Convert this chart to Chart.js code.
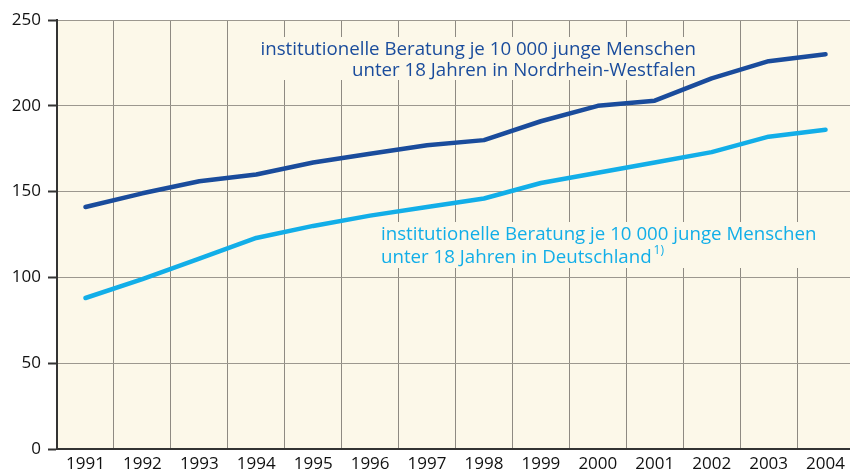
<!DOCTYPE html>
<html>
<head>
<meta charset="utf-8">
<script src="https://cdn.jsdelivr.net/npm/chart.js@4"></script>
<style>
  html, body { margin: 0; padding: 0; background: #fff; overflow: hidden; }
  #wrap { position: relative; width: 854px; height: 474px; }
</style>
</head>
<body>
<div id="wrap"><canvas id="c"></canvas></div>
<script>
const years = ["1991","1992","1993","1994","1995","1996","1997","1998","1999","2000","2001","2002","2003","2004"];
const nrw = [141, 149, 156, 160, 167, 172, 177, 180, 191, 200, 203, 216, 226, 230];
const deutschland = [88, 99, 111, 123, 130, 136, 141, 146, 155, 161, 167, 173, 182, 186];
const yTicks = [0, 50, 100, 150, 200, 250];

const labelNrw = ["institutionelle Beratung je 10 000 junge Menschen", "unter 18 Jahren in Nordrhein-Westfalen"];
const labelDe = ["institutionelle Beratung je 10 000 junge Menschen", "unter 18 Jahren in Deutschland"];
const footnote = "1)";

const DARK = "#1a4c9c";
const LIGHT = "#12aee8";
const CREAM = "#fcf8e9";
const FONT = "'Open Sans', sans-serif";

// cream plot background
const bgPlugin = {
  id: "bg",
  beforeDraw(chart) {
    const a = chart.chartArea, ctx = chart.ctx;
    ctx.save();
    ctx.fillStyle = CREAM;
    ctx.fillRect(a.left, a.top, a.right - a.left, a.bottom - a.top);
    ctx.restore();
  }
};

// in-plot labels with cream box that hides the grid behind them
const labelPlugin = {
  id: "labels",
  beforeDatasetsDraw(chart) {
    const ctx = chart.ctx, a = chart.chartArea;
    ctx.save();
    ctx.font = "18.7px " + FONT;
    ctx.textBaseline = "alphabetic";

    // NRW label, right aligned
    const r1 = a.left + 639;
    const w1 = Math.max(...labelNrw.map(s => ctx.measureText(s).width));
    ctx.fillStyle = CREAM;
    ctx.fillRect(r1 - w1 - 5, a.top + 17, w1 + 10, 43);
    ctx.fillStyle = DARK;
    ctx.textAlign = "right";
    ctx.fillText(labelNrw[0], r1, a.top + 35);
    ctx.fillText(labelNrw[1], r1, a.top + 56);

    // Deutschland label, left aligned
    const l2 = a.left + 324;
    const w2 = Math.max(...labelDe.map(s => ctx.measureText(s).width));
    ctx.fillStyle = CREAM;
    ctx.fillRect(l2 - 5, a.top + 202, w2 + 10, 46);
    ctx.fillStyle = LIGHT;
    ctx.textAlign = "left";
    ctx.fillText(labelDe[0], l2, a.top + 220);
    ctx.fillText(labelDe[1], l2, a.top + 243);
    const wd = ctx.measureText(labelDe[1]).width;
    ctx.font = "12px " + FONT;
    ctx.fillText(footnote, l2 + wd + 2, a.top + 234);
    ctx.restore();
  }
};

new Chart(document.getElementById("c"), {
  type: "line",
  data: {
    labels: years,
    datasets: [
      { label: "NRW", data: nrw, borderColor: DARK, borderWidth: 4.5, pointRadius: 0, tension: 0, borderCapStyle: "round", borderJoinStyle: "round" },
      { label: "Deutschland", data: deutschland, borderColor: LIGHT, borderWidth: 4.5, pointRadius: 0, tension: 0, borderCapStyle: "round", borderJoinStyle: "round" }
    ]
  },
  options: {
    responsive: true,
    maintainAspectRatio: false,
    animation: false,
    layout: { padding: { top: 20, right: 0, left: 0, bottom: 0 } },
    plugins: { legend: { display: false }, tooltip: { enabled: false } },
    scales: {
      x: {
        offset: true,
        grid: { offset: true, color: "#8e8a82", lineWidth: 1, drawTicks: false },
        border: { color: "#333", width: 2 },
        ticks: { color: "#111", font: { family: FONT, size: 17 }, padding: 5, maxRotation: 0, autoSkip: false },
        afterFit(s) { s.height = 25; }
      },
      y: {
        min: 0, max: 250,
        afterBuildTicks(s) { s.ticks = yTicks.map(v => ({ value: v })); },
        grid: { color: "#9c988f", lineWidth: 1, tickLength: 9, tickColor: "#333", tickWidth: 2 },
        border: { color: "#333", width: 2 },
        ticks: { color: "#111", font: { family: FONT, size: 17 }, padding: 7 },
        afterFit(s) { s.width = 57; }
      }
    }
  },
  plugins: [bgPlugin, labelPlugin]
});
</script>
</body>
</html>
